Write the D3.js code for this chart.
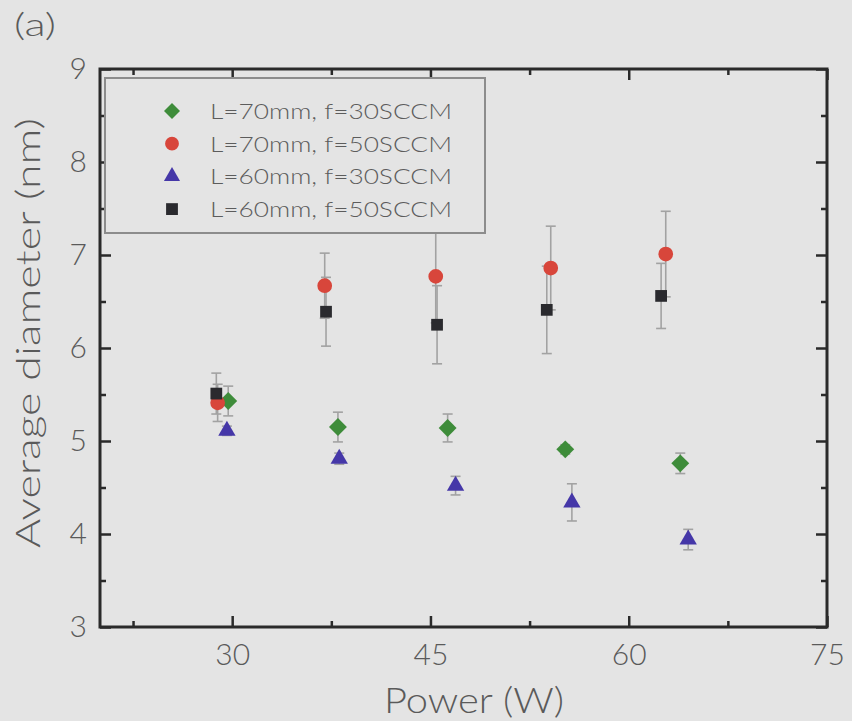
<!DOCTYPE html>
<html>
<head>
<meta charset="utf-8">
<script src="https://cdn.jsdelivr.net/npm/d3@7"></script>
<style>
  html, body { margin: 0; padding: 0; background: #e4e4e4; }
  svg { display: block; }
  text { font-family: Lato, "Open Sans", sans-serif; font-weight: 300; }
</style>
</head>
<body>
<svg id="chart" width="852" height="721"></svg>
<script>
// Axis ticks
const xTicks = [30, 45, 60, 75];
const xMinorTicks = [22.5, 37.5, 52.5, 67.5];
const yTicks = [3, 4, 5, 6, 7, 8, 9];
const yMinorTicks = [3.5, 4.5, 5.5, 6.5, 7.5, 8.5];

// Series labels
const seriesLabels = ["L=70mm, f=30SCCM", "L=70mm, f=50SCCM", "L=60mm, f=30SCCM", "L=60mm, f=50SCCM"];

// L=70mm, f=30SCCM
const power70f30 = [29.7, 38.0, 46.3, 55.2, 63.9];
const diam70f30  = [5.43, 5.15, 5.14, 4.91, 4.76];
const err70f30   = [0.16, 0.16, 0.15, 0.05, 0.11];

// L=70mm, f=50SCCM
const power70f50 = [28.9, 37.0, 45.4, 54.1, 62.8];
const diam70f50  = [5.41, 6.67, 6.77, 6.86, 7.01];
const err70f50   = [0.20, 0.35, 0.50, 0.45, 0.46];

// L=60mm, f=30SCCM
const power60f30 = [29.6, 38.1, 46.9, 55.7, 64.5];
const diam60f30  = [5.11, 4.81, 4.52, 4.34, 3.94];
const err60f30   = [0.05, 0.06, 0.10, 0.20, 0.11];

// L=60mm, f=50SCCM
const power60f50 = [28.8, 37.1, 45.5, 53.8, 62.45];
const diam60f50  = [5.51, 6.39, 6.25, 6.41, 6.56];
const err60f50   = [0.22, 0.37, 0.42, 0.47, 0.35];

const xDomain = [20, 75];
const yDomain = [3, 9];

// Styling per series
const seriesStyle = [
  { color: "#3e8c3a", shape: "diamond",  size: 160, legendSize: 128 },
  { color: "#d8463b", shape: "circle",   size: 170, legendSize: 150 },
  { color: "#4537a8", shape: "triangle", size: 130, legendSize: 112 },
  { color: "#2a2a2e", shape: "square",   size: 138, legendSize: 140 }
];

const series = [
  { x: power70f30, y: diam70f30, e: err70f30 },
  { x: power70f50, y: diam70f50, e: err70f50 },
  { x: power60f30, y: diam60f30, e: err60f30 },
  { x: power60f50, y: diam60f50, e: err60f50 }
].map((s, i) => ({
  label: seriesLabels[i],
  style: seriesStyle[i],
  points: s.x.map((xv, j) => ({ x: xv, y: s.y[j], e: s.e[j] }))
}));

const svg = d3.select("#chart");
const W = 852, H = 721;
const margin = { left: 100, top: 69, right: W - 827, bottom: H - 627 };
const pw = W - margin.left - margin.right;
const ph = H - margin.top - margin.bottom;

svg.append("rect").attr("width", W).attr("height", H).attr("fill", "#e4e4e4");

const g = svg.append("g").attr("transform", `translate(${margin.left},${margin.top})`);

const x = d3.scaleLinear().domain(xDomain).range([0, pw]);
const y = d3.scaleLinear().domain(yDomain).range([ph, 0]);

const axisColor = "#2a2a2a";
const labelColor = "#5a5a5a";
const MAJ = 11, MIN = 6;

function styleAxis(sel) {
  sel.select(".domain").remove();
  sel.selectAll(".tick line").attr("stroke", axisColor).attr("stroke-width", 2.5);
  sel.selectAll(".tick text").attr("fill", labelColor).attr("font-size", 30);
}

// Bottom axis (labelled) + minor ticks
g.append("g").attr("transform", `translate(0,${ph})`)
  .call(d3.axisBottom(x).tickValues(xTicks).tickSizeInner(-MAJ).tickSizeOuter(0).tickPadding(17).tickFormat(d3.format("d")))
  .call(styleAxis);
g.append("g").attr("transform", `translate(0,${ph})`)
  .call(d3.axisBottom(x).tickValues(xMinorTicks).tickSizeInner(-MIN).tickSizeOuter(0).tickFormat(""))
  .call(styleAxis);

// Top axis (ticks only)
g.append("g")
  .call(d3.axisTop(x).tickValues(xTicks).tickSizeInner(-MAJ).tickSizeOuter(0).tickFormat(""))
  .call(styleAxis);
g.append("g")
  .call(d3.axisTop(x).tickValues(xMinorTicks).tickSizeInner(-MIN).tickSizeOuter(0).tickFormat(""))
  .call(styleAxis);

// Left axis (labelled) + minor ticks
g.append("g")
  .call(d3.axisLeft(y).tickValues(yTicks).tickSizeInner(-MAJ).tickSizeOuter(0).tickPadding(13).tickFormat(d3.format("d")))
  .call(styleAxis);
g.append("g")
  .call(d3.axisLeft(y).tickValues(yMinorTicks).tickSizeInner(-MIN).tickSizeOuter(0).tickFormat(""))
  .call(styleAxis);

// Right axis (ticks only)
g.append("g").attr("transform", `translate(${pw},0)`)
  .call(d3.axisRight(y).tickValues(yTicks).tickSizeInner(-MAJ).tickSizeOuter(0).tickFormat(""))
  .call(styleAxis);
g.append("g").attr("transform", `translate(${pw},0)`)
  .call(d3.axisRight(y).tickValues(yMinorTicks).tickSizeInner(-MIN).tickSizeOuter(0).tickFormat(""))
  .call(styleAxis);

// Plot frame
g.append("rect").attr("width", pw).attr("height", ph)
  .attr("fill", "none").attr("stroke", axisColor).attr("stroke-width", 3);

// Error bars
const errColor = "#a2a2a2";
const capW = 5;
series.forEach(s => {
  const eg = g.append("g").attr("stroke", errColor).attr("stroke-width", 1.6).attr("fill", "none");
  s.points.forEach(p => {
    const cx = x(p.x), y0 = y(p.y - p.e), y1 = y(p.y + p.e);
    eg.append("line").attr("x1", cx).attr("x2", cx).attr("y1", y0).attr("y2", y1);
    eg.append("line").attr("x1", cx - capW).attr("x2", cx + capW).attr("y1", y0).attr("y2", y0);
    eg.append("line").attr("x1", cx - capW).attr("x2", cx + capW).attr("y1", y1).attr("y2", y1);
  });
});

// Marker factory
function markerPath(shape, size) {
  const type = shape === "circle" ? d3.symbolCircle
    : shape === "triangle" ? d3.symbolTriangle
    : d3.symbolSquare;
  return d3.symbol().type(type).size(size)();
}
function markerTransform(shape, cx, cy) {
  return shape === "diamond" ? `translate(${cx},${cy}) rotate(45)` : `translate(${cx},${cy})`;
}

// Markers
series.forEach(s => {
  g.append("g").selectAll("path").data(s.points).join("path")
    .attr("d", markerPath(s.style.shape, s.style.size))
    .attr("transform", d => markerTransform(s.style.shape, x(d.x), y(d.y)))
    .attr("fill", s.style.color);
});

// Legend
const legend = svg.append("g").attr("transform", "translate(105,78)");
legend.append("rect").attr("width", 380).attr("height", 155)
  .attr("fill", "#e4e4e4").attr("stroke", "#8c8c8c").attr("stroke-width", 2);
series.forEach((s, i) => {
  const ly = 33 + i * 32.7;
  legend.append("path")
    .attr("d", markerPath(s.style.shape, s.style.legendSize))
    .attr("transform", markerTransform(s.style.shape, 67, ly))
    .attr("fill", s.style.color);
  legend.append("text")
    .attr("x", 105).attr("y", ly).attr("dy", "0.36em")
    .attr("font-size", 22).attr("fill", "#5c5c5c")
    .attr("textLength", 242).attr("lengthAdjust", "spacingAndGlyphs")
    .text(s.label);
});

// Axis titles
svg.append("text")
  .attr("x", 474).attr("y", 713).attr("text-anchor", "middle")
  .attr("font-size", 36).attr("fill", labelColor)
  .attr("textLength", 180).attr("lengthAdjust", "spacingAndGlyphs")
  .text("Power (W)");

svg.append("text")
  .attr("transform", "translate(40,333) rotate(-90)")
  .attr("text-anchor", "middle")
  .attr("font-size", 33).attr("fill", labelColor)
  .attr("textLength", 430).attr("lengthAdjust", "spacingAndGlyphs")
  .text("Average diameter (nm)");

// Panel label
svg.append("text")
  .attr("x", 14).attr("y", 36)
  .attr("font-size", 32).attr("fill", labelColor)
  .attr("textLength", 42).attr("lengthAdjust", "spacingAndGlyphs")
  .text("(a)");
</script>
</body>
</html>
